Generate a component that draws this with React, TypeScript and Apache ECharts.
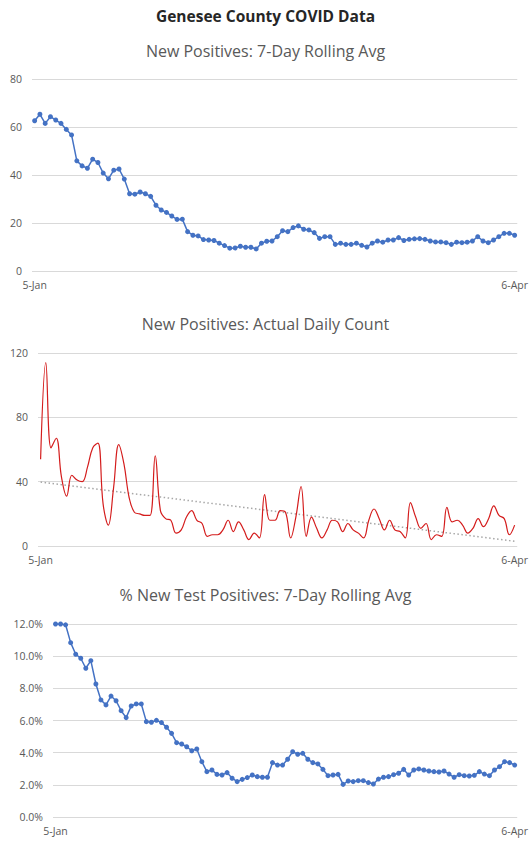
import React, { useEffect, useRef } from "react";
import * as echarts from "echarts";

const mainTitle = "Genesee County COVID Data";
const panelTitles = [
  "New Positives: 7-Day Rolling Avg",
  "New Positives: Actual Daily Count",
  "% New Test Positives: 7-Day Rolling Avg",
];

const monthNames = ["Jan", "Feb", "Mar", "Apr"];
const monthLengths = [31, 28, 31, 30];
const startDay = 5; // 5-Jan
const endMonth = 3; // Apr
const endDay = 6; // 6-Apr

function buildDates(): string[] {
  const out: string[] = [];
  for (let m = 0; m <= endMonth; m++) {
    const first = m === 0 ? startDay : 1;
    const last = m === endMonth ? endDay : monthLengths[m];
    for (let d = first; d <= last; d++) out.push(`${d}-${monthNames[m]}`);
  }
  return out;
}
const dates = buildDates();

const rollingAvg = [
  62.6, 65.3, 61.5, 64.3, 62.9, 61.5, 59.0, 56.7, 45.9, 43.8,
  42.8, 46.6, 45.2, 40.8, 38.4, 42.0, 42.5, 38.3, 32.2, 32.0,
  32.9, 32.2, 31.1, 27.4, 25.4, 24.4, 22.9, 21.5, 21.6, 16.4,
  14.9, 14.6, 13.1, 12.9, 12.7, 11.6, 10.6, 9.5, 9.6, 10.3,
  9.9, 9.9, 9.2, 11.6, 12.4, 12.5, 14.3, 16.8, 16.4, 18.1,
  18.8, 17.4, 17.1, 16.0, 13.6, 14.3, 14.3, 11.1, 11.6, 11.1,
  11.1, 11.6, 10.7, 10.0, 11.6, 12.5, 12.0, 12.9, 12.9, 13.9,
  12.7, 13.2, 13.4, 13.5, 13.2, 12.5, 12.1, 12.1, 11.8, 11.1,
  12.0, 11.8, 12.0, 12.5, 14.3, 12.5, 11.8, 12.9, 14.3, 15.7,
  15.7, 14.9,
];

const dailyCount = [
  54, 114, 61, 67, 43, 31, 44, 41, 40, 49,
  61, 64, 26, 13, 36, 63, 51, 30, 21, 20,
  19, 19, 56, 22, 17, 16, 8, 10, 18, 22,
  16, 14, 6, 7, 7, 10, 16, 9, 15, 10,
  4, 8, 5, 32, 16, 16, 22, 21, 5, 18,
  37, 6, 18, 11, 5, 10, 16, 15, 9, 14,
  10, 8, 5, 16, 23, 17, 10, 16, 10, 9,
  5, 27, 18, 11, 14, 4, 7, 6, 24, 15,
  16, 13, 8, 11, 17, 12, 17, 25, 19, 17,
  7, 13,
];

const pctPositive = [
  12.0, 12.0, 11.95, 10.84, 10.12, 9.87, 9.25, 9.72, 8.27, 7.28,
  6.97, 7.52, 7.23, 6.61, 6.18, 6.9, 7.03, 7.03, 5.93, 5.89,
  6.01, 5.87, 5.58, 5.2, 4.62, 4.54, 4.37, 4.12, 4.23, 3.44,
  2.82, 2.92, 2.65, 2.61, 2.76, 2.41, 2.2, 2.34, 2.45, 2.61,
  2.51, 2.47, 2.47, 3.38, 3.23, 3.23, 3.59, 4.06, 3.9, 3.96,
  3.59, 3.38, 3.3, 2.96, 2.57, 2.61, 2.65, 2.03, 2.24, 2.2,
  2.26, 2.26, 2.14, 2.05, 2.36, 2.47, 2.51, 2.63, 2.72, 2.96,
  2.61, 2.92, 2.99, 2.92, 2.86, 2.82, 2.8, 2.86, 2.67, 2.47,
  2.63, 2.57, 2.55, 2.59, 2.82, 2.67, 2.57, 2.92, 3.13, 3.44,
  3.38, 3.23,
];

// Linear least-squares trendline (as Excel's "Linear" trendline)
function linearTrend(vals: number[]): number[] {
  const n = vals.length;
  let sx = 0, sy = 0, sxx = 0, sxy = 0;
  vals.forEach((v, i) => {
    sx += i; sy += v; sxx += i * i; sxy += i * v;
  });
  const b = (n * sxy - sx * sy) / (n * sxx - sx * sx);
  const a = (sy - b * sx) / n;
  return vals.map((_, i) => a + b * i);
}

const FONT = "'Open Sans', Lato, sans-serif";
const GRAY_TEXT = "#595959";
const GRID_COLOR = "#d9d9d9";
const BLUE = "#4472c4";
const RED = "#d41c1c";

export default function App() {
  const ref = useRef<HTMLDivElement>(null);

  useEffect(() => {
    if (!ref.current) return;
    const chart = echarts.init(ref.current, undefined, { renderer: "svg" });

    const grids = [
      { left: 32, right: 11, top: 79, height: 192 },
      { left: 38, right: 11, top: 353, height: 193 },
      { left: 53, right: 6, top: 624, height: 193 },
    ];
    const yDefs = [
      { min: 0, max: 80, interval: 20, fmt: (v: number) => `${v}` },
      { min: 0, max: 120, interval: 40, fmt: (v: number) => `${v}` },
      { min: 0, max: 12, interval: 2, fmt: (v: number) => `${v.toFixed(1)}%` },
    ];
    const last = dates.length - 1;

    chart.setOption({
      animation: false,
      backgroundColor: "#ffffff",
      textStyle: { fontFamily: FONT },
      title: [
        {
          text: mainTitle,
          left: "center",
          top: 3,
          textStyle: { fontFamily: FONT, fontSize: 15.5, fontWeight: "bold", color: "#262626" },
        },
        ...panelTitles.map((t, i) => ({
          text: t,
          left: "center",
          top: [38, 311, 582][i],
          textStyle: { fontFamily: FONT, fontSize: 16, fontWeight: "normal", color: GRAY_TEXT },
        })),
      ],
      grid: grids,
      xAxis: grids.map((_, i) => ({
        type: "category",
        gridIndex: i,
        data: dates,
        boundaryGap: true,
        axisLine: { show: false },
        axisTick: { show: false },
        splitLine: { show: false },
        axisLabel: {
          interval: (idx: number) => idx === 0 || idx === last,
          color: GRAY_TEXT,
          fontSize: 10.5,
          fontFamily: FONT,
          margin: 8,
        },
      })),
      yAxis: yDefs.map((d, i) => ({
        type: "value",
        gridIndex: i,
        min: d.min,
        max: d.max,
        interval: d.interval,
        axisLine: { show: false },
        axisTick: { show: false },
        splitLine: { show: true, lineStyle: { color: GRID_COLOR, width: 1 } },
        axisLabel: {
          formatter: d.fmt,
          color: GRAY_TEXT,
          fontSize: 10.5,
          fontFamily: FONT,
          margin: 10,
        },
      })),
      series: [
        {
          type: "line",
          xAxisIndex: 0,
          yAxisIndex: 0,
          data: rollingAvg,
          symbol: "circle",
          symbolSize: 5,
          showAllSymbol: true,
          lineStyle: { color: BLUE, width: 1.5 },
          itemStyle: { color: BLUE },
        },
        {
          type: "line",
          xAxisIndex: 1,
          yAxisIndex: 1,
          data: linearTrend(dailyCount),
          showSymbol: false,
          symbol: "none",
          lineStyle: { color: "#a6a6a6", width: 1.5, type: [1.5, 2.5] },
        },
        {
          type: "line",
          xAxisIndex: 1,
          yAxisIndex: 1,
          data: dailyCount,
          smooth: 0.4,
          showSymbol: false,
          symbol: "none",
          lineStyle: { color: RED, width: 1.2 },
          itemStyle: { color: RED },
        },
        {
          type: "line",
          xAxisIndex: 2,
          yAxisIndex: 2,
          data: pctPositive,
          symbol: "circle",
          symbolSize: 5,
          showAllSymbol: true,
          lineStyle: { color: BLUE, width: 1.5 },
          itemStyle: { color: BLUE },
        },
      ],
    });

    return () => chart.dispose();
  }, []);

  return (
    <div
      ref={ref}
      style={{ position: "absolute", left: 0, top: 0, width: 531, height: 842 }}
    />
  );
}
